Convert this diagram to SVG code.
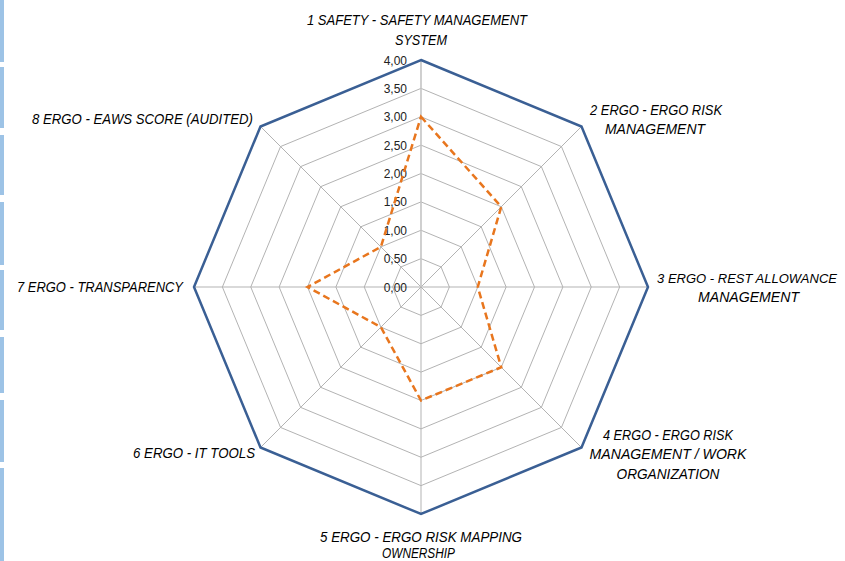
<svg xmlns="http://www.w3.org/2000/svg" width="845" height="561" viewBox="0 0 845 561">
<style>
.grid{fill:none;stroke:#b3b3b3;stroke-width:1}
.spoke{stroke:#b3b3b3;stroke-width:1}
.lbl{font-family:"Liberation Sans",Arial,sans-serif;font-style:italic;font-size:14px;fill:#000;text-anchor:middle}
.tick{font-family:"Liberation Sans",Arial,sans-serif;font-size:12px;fill:#222;text-anchor:end}
.strip{fill:#9dc3e6}
</style>
<rect width="845" height="561" fill="#fff"/>
<g id="strip">
<rect class="strip" x="0" y="0" width="4" height="62"/>
<rect class="strip" x="0" y="67" width="4" height="61"/>
<rect class="strip" x="0" y="135" width="4" height="60"/>
<rect class="strip" x="0" y="202" width="4" height="63"/>
<rect class="strip" x="0" y="270" width="4" height="60"/>
<rect class="strip" x="0" y="337" width="4" height="56"/>
<rect class="strip" x="0" y="400" width="4" height="62"/>
<rect class="strip" x="0" y="468" width="4" height="93"/>
</g>
<g id="gridlines">
<polygon class="grid" points="421,258.63 441.06,266.94 449.38,287 441.06,307.06 421,315.38 400.94,307.06 392.63,287 400.94,266.94"/>
<polygon class="grid" points="421,230.25 461.13,246.87 477.75,287 461.13,327.13 421,343.75 380.87,327.13 364.25,287 380.87,246.87"/>
<polygon class="grid" points="421,201.88 481.19,226.81 506.13,287 481.19,347.19 421,372.13 360.81,347.19 335.88,287 360.81,226.81"/>
<polygon class="grid" points="421,173.5 501.26,206.74 534.5,287 501.26,367.26 421,400.5 340.74,367.26 307.5,287 340.74,206.74"/>
<polygon class="grid" points="421,145.13 521.32,186.68 562.88,287 521.32,387.32 421,428.88 320.68,387.32 279.13,287 320.68,186.68"/>
<polygon class="grid" points="421,116.75 541.39,166.62 591.25,287 541.39,407.39 421,457.25 300.61,407.39 250.75,287 300.61,166.62"/>
<polygon class="grid" points="421,88.38 561.45,146.55 619.63,287 561.45,427.45 421,485.63 280.55,427.45 222.38,287 280.55,146.55"/>
</g>
<g id="connectors">
<line class="spoke" x1="421" y1="287" x2="581.51" y2="126.49"/>
<line class="spoke" x1="421" y1="287" x2="648" y2="287"/>
<line class="spoke" x1="421" y1="287" x2="581.51" y2="447.51"/>
<line class="spoke" x1="421" y1="287" x2="421" y2="514"/>
<line class="spoke" x1="421" y1="287" x2="260.49" y2="447.51"/>
<line class="spoke" x1="421" y1="287" x2="194" y2="287"/>
<line class="spoke" x1="421" y1="287" x2="260.49" y2="126.49"/>
<line x1="421" y1="287" x2="421" y2="60" stroke="#c4c4c4" stroke-width="1.6"/>
</g>
<g id="ticks">
<text class="tick" x="407" y="291.5">0,00</text>
<text class="tick" x="407" y="263.1">0,50</text>
<text class="tick" x="407" y="234.8">1,00</text>
<text class="tick" x="407" y="206.4">1,50</text>
<text class="tick" x="407" y="178">2,00</text>
<text class="tick" x="407" y="149.6">2,50</text>
<text class="tick" x="407" y="121.3">3,00</text>
<text class="tick" x="407" y="92.9">3,50</text>
<text class="tick" x="407" y="64.5">4,00</text>
</g>
<g id="outer">
<polygon points="421,60 581.51,126.49 648,287 581.51,447.51 421,514 260.49,447.51 194,287 260.49,126.49" fill="none" stroke="#3a5f94" stroke-width="2.5" stroke-linejoin="miter"/>
</g>
<g id="series">
<polygon points="421,116.75 501.26,206.74 477.75,287 501.26,367.26 421,400.5 380.87,327.13 307.5,287 380.87,246.87" fill="none" stroke="#e8761e" stroke-width="2.5" stroke-dasharray="7,4"/>
</g>
<g id="label-1">
<text class="lbl" x="417" y="25" textLength="220" lengthAdjust="spacingAndGlyphs">1 SAFETY - SAFETY MANAGEMENT</text>
<text class="lbl" x="421" y="45" textLength="52" lengthAdjust="spacingAndGlyphs">SYSTEM</text>
</g>
<g id="label-2">
<text class="lbl" x="656" y="115" textLength="132" lengthAdjust="spacingAndGlyphs">2 ERGO - ERGO RISK</text>
<text class="lbl" x="655" y="134" textLength="100" lengthAdjust="spacingAndGlyphs">MANAGEMENT</text>
</g>
<g id="label-3">
<text class="lbl" x="747" y="283" style="font-size:13px">3 ERGO - REST ALLOWANCE</text>
<text class="lbl" x="748.5" y="302" textLength="101" lengthAdjust="spacingAndGlyphs">MANAGEMENT</text>
</g>
<g id="label-4">
<text class="lbl" x="668" y="440" textLength="130" lengthAdjust="spacingAndGlyphs">4 ERGO - ERGO RISK</text>
<text class="lbl" x="668" y="459" textLength="157" lengthAdjust="spacingAndGlyphs">MANAGEMENT / WORK</text>
<text class="lbl" x="668" y="479" textLength="103" lengthAdjust="spacingAndGlyphs">ORGANIZATION</text>
</g>
<g id="label-5">
<text class="lbl" x="421" y="542" textLength="202" lengthAdjust="spacingAndGlyphs">5 ERGO - ERGO RISK MAPPING</text>
<text class="lbl" x="418.5" y="558" textLength="73" lengthAdjust="spacingAndGlyphs">OWNERSHIP</text>
</g>
<g id="label-6">
<text class="lbl" x="194" y="458" textLength="122" lengthAdjust="spacingAndGlyphs">6 ERGO - IT TOOLS</text>
</g>
<g id="label-7">
<text class="lbl" x="100" y="292" textLength="166" lengthAdjust="spacingAndGlyphs">7 ERGO - TRANSPARENCY</text>
</g>
<g id="label-8">
<text class="lbl" x="142.5" y="124" textLength="221" lengthAdjust="spacingAndGlyphs">8 ERGO - EAWS SCORE (AUDITED)</text>
</g>
</svg>
